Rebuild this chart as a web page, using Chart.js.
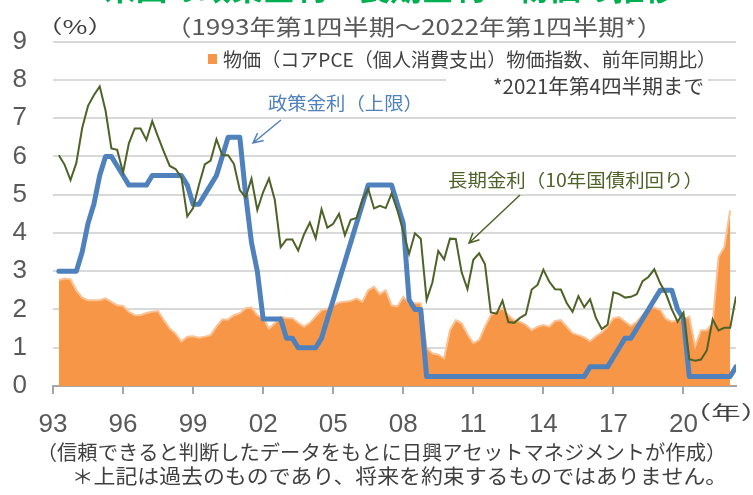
<!DOCTYPE html>
<html>
<head>
<meta charset="utf-8">
<script src="https://cdn.jsdelivr.net/npm/chart.js@4.4.1/dist/chart.umd.min.js"></script>
<style>
  html, body { margin: 0; padding: 0; background: #fff; }
</style>
</head>
<body>
<canvas id="c" width="753" height="495"></canvas>
<script>
// 1993Q1 .. 2022Q1, quarterly (index 0 = 1993Q1)
const xTickLabels = ['93', '96', '99', '02', '05', '08', '11', '14', '17', '20'];

// FF rate target (upper bound), quarter end
const policyRate = [
  3.00, 3.00, 3.00, 3.00,  3.50, 4.25, 4.75, 5.50,  6.00, 6.00, 5.75, 5.50,
  5.25, 5.25, 5.25, 5.25,  5.50, 5.50, 5.50, 5.50,  5.50, 5.50, 5.25, 4.75,
  4.75, 5.00, 5.25, 5.50,  6.00, 6.50, 6.50, 6.50,  5.00, 3.75, 3.00, 1.75,
  1.75, 1.75, 1.75, 1.25,  1.25, 1.00, 1.00, 1.00,  1.00, 1.25, 1.75, 2.25,
  2.75, 3.25, 3.75, 4.25,  4.75, 5.25, 5.25, 5.25,  5.25, 5.25, 4.75, 4.25,
  2.25, 2.00, 2.00, 0.25,  0.25, 0.25, 0.25, 0.25,  0.25, 0.25, 0.25, 0.25,
  0.25, 0.25, 0.25, 0.25,  0.25, 0.25, 0.25, 0.25,  0.25, 0.25, 0.25, 0.25,
  0.25, 0.25, 0.25, 0.25,  0.25, 0.25, 0.25, 0.50,  0.50, 0.50, 0.50, 0.75,
  1.00, 1.25, 1.25, 1.50,  1.75, 2.00, 2.25, 2.50,  2.50, 2.50, 2.00, 1.75,
  0.25, 0.25, 0.25, 0.25,  0.25, 0.25, 0.25, 0.25,  0.50
];

// 10y treasury yield, quarter end
const bond10y = [
  6.03, 5.78, 5.38, 5.83,  6.74, 7.32, 7.60, 7.83,  7.20, 6.21, 6.17, 5.58,
  6.34, 6.73, 6.73, 6.43,  6.92, 6.51, 6.12, 5.75,  5.67, 5.45, 4.43, 4.65,
  5.25, 5.79, 5.89, 6.45,  6.03, 6.03, 5.80, 5.12,  4.93, 5.42, 4.60, 5.07,
  5.42, 4.86, 3.63, 3.83,  3.83, 3.54, 3.96, 4.27,  3.86, 4.62, 4.14, 4.24,
  4.50, 3.94, 4.34, 4.39,  4.86, 5.15, 4.64, 4.71,  4.65, 5.03, 4.59, 4.04,
  3.45, 3.99, 3.85, 2.25,  2.71, 3.53, 3.31, 3.85,  3.84, 2.97, 2.53, 3.30,
  3.47, 3.18, 1.92, 1.89,  2.23, 1.67, 1.65, 1.78,  1.87, 2.52, 2.64, 3.04,
  2.73, 2.53, 2.52, 2.17,  1.94, 2.35, 2.06, 2.27,  1.78, 1.49, 1.60, 2.45,
  2.40, 2.31, 2.33, 2.40,  2.74, 2.85, 3.05, 2.69,  2.41, 2.00, 1.68, 1.92,
  0.70, 0.66, 0.69, 0.93,  1.74, 1.45, 1.52, 1.52,  2.34
];

// core PCE price index, y/y (to 2021Q4)
const corePce = [
  2.77, 2.81, 2.79, 2.50,  2.31, 2.24, 2.24, 2.24,  2.29, 2.20, 2.11, 2.09,
  1.94, 1.85, 1.85, 1.91,  1.94, 1.96, 1.72, 1.50,  1.37, 1.16, 1.29, 1.30,
  1.26, 1.29, 1.33, 1.55,  1.74, 1.74, 1.85, 1.90,  2.03, 2.05, 1.85, 1.77,
  1.50, 1.64, 1.81, 1.78,  1.77, 1.65, 1.55, 1.65,  1.82, 1.98, 2.02, 2.10,
  2.18, 2.20, 2.22, 2.29,  2.20, 2.50, 2.59, 2.40,  2.50, 2.11, 2.08, 2.33,
  2.16, 2.16, 2.16, 1.00,  0.85, 0.82, 0.72, 1.46,  1.72, 1.64, 1.35, 1.12,
  1.20, 1.55, 1.85, 1.94,  2.03, 1.85, 1.72, 1.68,  1.60, 1.46, 1.55, 1.59,
  1.55, 1.70, 1.72, 1.55,  1.38, 1.33, 1.27, 1.17,  1.30, 1.40, 1.55, 1.77,
  1.80, 1.68, 1.57, 1.68,  1.85, 2.05, 2.05, 2.00,  1.75, 1.68, 1.72, 1.76,
  1.81, 1.03, 1.46, 1.46,  1.64, 3.37, 3.63, 4.59
];

const pts = arr => arr.map((v, i) => ({ x: i, y: v }));
const JP = '"Noto Sans CJK JP", sans-serif';

// squeeze/stretch a text so its ink runs from x0 to x1
function fitText(c, text, x0, x1, y, font, color, baseline) {
  c.save();
  c.font = font;
  c.textAlign = 'left';
  c.textBaseline = baseline || 'middle';
  const m = c.measureText(text);
  const s = (x1 - x0) / (m.actualBoundingBoxLeft + m.actualBoundingBoxRight);
  c.translate(x0 + m.actualBoundingBoxLeft * s, y);
  c.scale(s, 1);
  c.fillStyle = color;
  c.fillText(text, 0, 0);
  c.restore();
}

function arrow(c, x0, y0, x1, y1, color) {
  const a = Math.atan2(y1 - y0, x1 - x0), L = 11;
  c.save();
  c.strokeStyle = color;
  c.lineWidth = 1.5;
  c.beginPath();
  c.moveTo(x0, y0);
  c.lineTo(x1, y1);
  c.moveTo(x1 - L * Math.cos(a - 0.45), y1 - L * Math.sin(a - 0.45));
  c.lineTo(x1, y1);
  c.lineTo(x1 - L * Math.cos(a + 0.45), y1 - L * Math.sin(a + 0.45));
  c.stroke();
  c.restore();
}

const texts = {
  id: 'texts',
  afterDraw(chart) {
    const c = chart.ctx;
    fitText(c, '米国の政策金利・長期金利・物価の推移', 104, 676, 0, 'bold 32px ' + JP, '#00b050', 'alphabetic');
    fitText(c, '（1993年第1四半期～2022年第1四半期*）', 183, 645, 27, '22px ' + JP, '#595959');

    fitText(c, '（%）', 54, 96, 27, '19px ' + JP, '#404040');
    fitText(c, '（年）', 702, 750, 413, '19px ' + JP, '#404040');

    // legend
    c.fillStyle = '#f79646';
    c.fillRect(208, 54, 9, 10);
    fitText(c, '物価（コアPCE（個人消費支出）物価指数、前年同期比）', 223, 703, 60, '19px ' + JP, '#404040');

    c.fillStyle = '#fff';
    c.fillRect(446, 72, 262, 26);
    fitText(c, '*2021年第4四半期まで', 494, 703, 86, '20px ' + JP, '#404040');

    fitText(c, '政策金利（上限）', 268, 410, 103, '18px ' + JP, '#4f81bd');
    arrow(c, 281, 120, 253, 143, '#4f81bd');

    fitText(c, '長期金利（10年国債利回り）', 448, 690, 180, '18px ' + JP, '#4f6228');
    arrow(c, 520, 195, 469, 243, '#4f6228');

    fitText(c, '（信頼できると判断したデータをもとに日興アセットマネジメントが作成）', 50, 713, 452, '20px ' + JP, '#404040');
    fitText(c, '＊上記は過去のものであり、将来を約束するものではありません。', 75, 713, 476, '20px ' + JP, '#404040');
  }
};

new Chart(document.getElementById('c'), {
  type: 'line',
  data: {
    datasets: [
      { label: '長期金利', data: pts(bond10y), borderColor: '#4f6228', borderWidth: 2,
        pointRadius: 0, fill: false, order: 0 },
      { label: '政策金利', data: pts(policyRate), borderColor: '#4f81bd', borderWidth: 5,
        borderJoinStyle: 'round', borderCapStyle: 'round', pointRadius: 0, fill: false, order: 1 },
      { label: '物価', data: pts(corePce), borderColor: '#fbc294', borderWidth: 2,
        backgroundColor: '#f79646', fill: 'origin', pointRadius: 0, order: 2 }
    ]
  },
  options: {
    responsive: false,
    animation: false,
    layout: { padding: { top: 41, right: 17, left: 0, bottom: 0 } },
    plugins: { legend: { display: false }, tooltip: { enabled: false } },
    scales: {
      x: {
        type: 'linear', min: -1, max: 116,
        afterBuildTicks: s => { s.ticks = xTickLabels.map((_, k) => ({ value: -1 + 12 * k })); },
        afterFit: s => { s.height = 109; },
        ticks: {
          autoSkip: false, maxRotation: 0, padding: 15, color: '#595959',
          font: { family: 'Liberation Sans', size: 26 },
          callback: v => xTickLabels[Math.round((v + 1) / 12)]
        },
        grid: { drawOnChartArea: false, tickLength: 8, color: '#a6a6a6', lineWidth: 2 },
        border: { color: '#a6a6a6', width: 2 }
      },
      y: {
        min: 0, max: 9,
        afterFit: s => { s.width = 53; },
        ticks: { stepSize: 1, padding: 26, color: '#595959', font: { family: 'Liberation Sans', size: 26 } },
        grid: { color: '#d9d9d9', lineWidth: 2, drawTicks: false },
        border: { display: false }
      }
    }
  },
  plugins: [texts]
});
</script>
</body>
</html>
